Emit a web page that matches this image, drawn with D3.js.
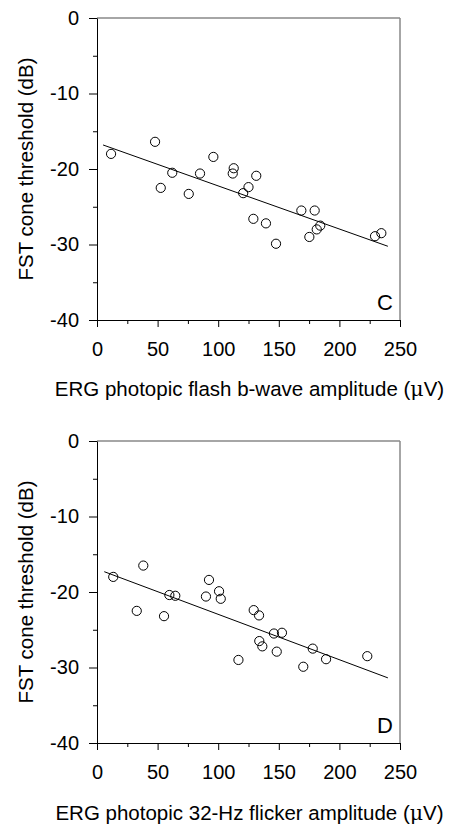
<!DOCTYPE html>
<html>
<head>
<meta charset="utf-8">
<script src="https://cdn.jsdelivr.net/npm/d3@7"></script>
<style>
  body { margin: 0; background: #fff; }
  svg text { font-family: Arial, "Liberation Sans", sans-serif; fill: #000; }
</style>
</head>
<body>
<div id="chart"></div>
<script>
// panel C: ERG photopic flash b-wave amplitude vs FST cone threshold
const flashAmp = [11.6, 47.9, 62.1, 52.6, 85.0, 75.7, 96.0, 112.8, 112.0, 120.6, 131.4,
                  125.0, 129.0, 139.4, 147.7, 168.6, 179.6, 184.2, 181.3, 175.2, 229.4, 234.6];
const flashThr = [-18.0, -16.4, -20.5, -22.5, -20.6, -23.3, -18.4, -19.9, -20.6, -23.2, -20.9,
                  -22.4, -26.6, -27.2, -29.9, -25.5, -25.5, -27.5, -28.0, -29.0, -28.9, -28.5];
// fitted line [intercept, slope] and x-range
const flashFit = [-16.53, -0.0571];
const flashFitRange = [5, 240];

// panel D: ERG photopic 32-Hz flicker amplitude vs FST cone threshold
const flickerAmp = [13.4, 38.2, 32.8, 55.3, 59.7, 64.6, 92.4, 89.9, 100.7, 102.1, 116.7,
                    129.3, 133.7, 146.0, 152.6, 133.9, 136.4, 148.3, 170.2, 178.0, 189.0, 223.0];
const flickerThr = [-18.0, -16.5, -22.5, -23.2, -20.4, -20.5, -18.4, -20.6, -19.9, -20.9, -29.0,
                    -22.4, -23.1, -25.5, -25.4, -26.5, -27.2, -27.9, -29.9, -27.5, -28.9, -28.5];
const flickerFit = [-16.95, -0.0601];
const flickerFitRange = [6, 240];

const xTicks = [0, 50, 100, 150, 200, 250];
const xMinor = [25, 75, 125, 175, 225];
const yTicks = [0, -10, -20, -30, -40];
const yMinor = [-5, -15, -25, -35];

const panels = [
    { top: 18, amp: flashAmp, thr: flashThr, fit: flashFit, range: flashFitRange,
      letter: "C", labelOff: 76, xlabel: "ERG photopic flash b-wave amplitude (" },
    { top: 441, amp: flickerAmp, thr: flickerThr, fit: flickerFit, range: flickerFitRange,
      letter: "D", labelOff: 77, xlabel: "ERG photopic 32-Hz flicker amplitude (" }
];

const width = 453, height = 825;
const left = 97, plotW = 303, plotH = 302;

const svg = d3.select("#chart").append("svg")
    .attr("width", width)
    .attr("height", height);

panels.forEach(p => {
    const g = svg.append("g").attr("transform", `translate(${left},${p.top})`);

    const x = d3.scaleLinear().domain([0, 250]).range([0, plotW]);
    const y = d3.scaleLinear().domain([-40, 0]).range([plotH, 0]);

    // gray top and right frame lines
    g.append("line").attr("x1", 0).attr("x2", plotW).attr("y1", 0).attr("y2", 0)
        .attr("stroke", "#888").attr("stroke-width", 1.5);
    g.append("line").attr("x1", plotW).attr("x2", plotW).attr("y1", 0).attr("y2", plotH)
        .attr("stroke", "#888").attr("stroke-width", 1.5);

    // minor ticks
    g.append("g").attr("transform", `translate(0,${plotH})`)
        .call(d3.axisBottom(x).tickValues(xMinor).tickSize(4).tickFormat(""))
        .call(a => a.select(".domain").remove());
    g.append("g")
        .call(d3.axisLeft(y).tickValues(yMinor).tickSize(4).tickFormat(""))
        .call(a => a.select(".domain").remove());

    // major axes (plain hyphen for negatives, as in the original)
    const xAxis = g.append("g").attr("transform", `translate(0,${plotH})`)
        .call(d3.axisBottom(x).tickValues(xTicks).tickFormat(d => String(d))
            .tickSizeInner(7).tickSizeOuter(0).tickPadding(15));
    const yAxis = g.append("g")
        .call(d3.axisLeft(y).tickValues(yTicks).tickFormat(d => String(d))
            .tickSizeInner(8).tickSizeOuter(0).tickPadding(10));
    [xAxis, yAxis].forEach(a => {
        a.selectAll("text").attr("font-size", "20px").attr("font-family", "Arial, 'Liberation Sans', sans-serif");
        a.select(".domain").attr("stroke", "#000");
    });

    // regression line
    g.append("line")
        .attr("x1", x(p.range[0])).attr("y1", y(p.fit[0] + p.fit[1] * p.range[0]))
        .attr("x2", x(p.range[1])).attr("y2", y(p.fit[0] + p.fit[1] * p.range[1]))
        .attr("stroke", "#000").attr("stroke-width", 1);

    // data points
    g.selectAll(".pt")
        .data(p.amp.map((d, i) => [d, p.thr[i]]))
        .enter().append("circle")
        .attr("class", "pt")
        .attr("cx", d => x(d[0]))
        .attr("cy", d => y(d[1]))
        .attr("r", 4.6)
        .attr("fill", "none")
        .attr("stroke", "#000")
        .attr("stroke-width", 1);

    // panel letter
    g.append("text")
        .attr("x", plotW - 7).attr("y", plotH - 10.5)
        .attr("text-anchor", "end")
        .attr("font-size", "22px")
        .text(p.letter);

    // x label with Greek mu
    const xl = g.append("text")
        .attr("x", plotW / 2 + 1).attr("y", plotH + p.labelOff)
        .attr("text-anchor", "middle")
        .attr("font-size", "20.5px");
    xl.append("tspan").text(p.xlabel);
    xl.append("tspan").attr("font-family", "'DejaVu Serif', 'Liberation Serif', serif").text("\u03BC");
    xl.append("tspan").text("V)");

    // y label
    g.append("text")
        .attr("transform", "rotate(-90)")
        .attr("x", -plotH / 2).attr("y", -64)
        .attr("text-anchor", "middle")
        .attr("font-size", "20.5px")
        .text("FST cone threshold (dB)");
});
</script>
</body>
</html>
